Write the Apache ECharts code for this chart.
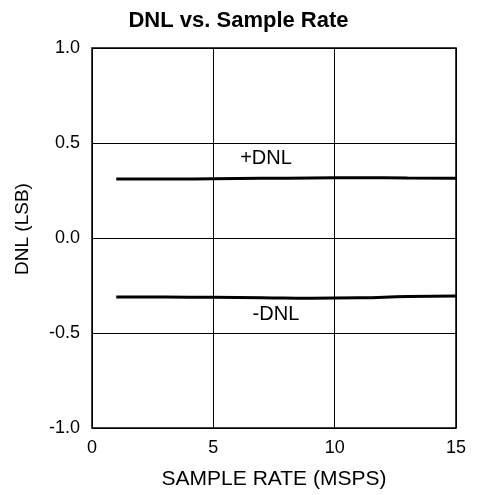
<!DOCTYPE html>
<html>
<head>
<meta charset="utf-8">
<script src="https://cdn.jsdelivr.net/npm/echarts@6/dist/echarts.min.js"></script>
<style>html,body{margin:0;padding:0;background:#fff;}#c{width:477px;height:495px;}</style>
</head>
<body>
<div id="c"></div>
<script>
var rates = [1, 3, 5, 7, 9, 11, 13, 15];
var dnlPos = [0.310, 0.310, 0.312, 0.314, 0.316, 0.317, 0.316, 0.315];
var dnlNeg = [-0.310, -0.311, -0.312, -0.314, -0.317, -0.315, -0.308, -0.305];
var xTicks = [0, 5, 10, 15];
var yTicks = [-1.0, -0.5, 0.0, 0.5, 1.0];

function pairs(xs, ys) { return xs.map(function (x, i) { return [x, ys[i]]; }); }

var font = 'Liberation Sans, Arial, sans-serif';
var chart = echarts.init(document.getElementById('c'));
chart.setOption({
  animation: false,
  backgroundColor: '#fff',
  title: {
    text: 'DNL vs. Sample Rate',
    left: 'center', top: 5,
    textStyle: { fontFamily: font, fontSize: 22, fontWeight: 'bold', color: '#000' }
  },
  grid: { left: 92, right: 21, top: 48, bottom: 67, show: true, borderColor: '#000', borderWidth: 1.5 },
  xAxis: {
    type: 'value', min: 0, max: 15, interval: 5,
    name: 'SAMPLE RATE (MSPS)', nameLocation: 'middle', nameGap: 41,
    nameTextStyle: { fontFamily: font, fontSize: 21, color: '#000' },
    axisLine: { show: false }, axisTick: { show: false },
    axisLabel: { fontFamily: font, fontSize: 18, color: '#000', margin: 11 },
    splitLine: { show: true, lineStyle: { color: '#000', width: 1 } }
  },
  yAxis: {
    type: 'value', min: -1, max: 1, interval: 0.5,
    name: 'DNL (LSB)', nameLocation: 'middle', nameGap: 60,
    nameTextStyle: { fontFamily: font, fontSize: 19, color: '#000', padding: [0, 0, 0, 18] },
    axisLine: { show: false }, axisTick: { show: false },
    axisLabel: { fontFamily: font, fontSize: 18, color: '#000', margin: 12,
      formatter: function (v) { return v.toFixed(1); } },
    splitLine: { show: true, lineStyle: { color: '#000', width: 1 } }
  },
  series: [
    {
      type: 'line', data: pairs(rates, dnlPos), showSymbol: false, smooth: true,
      lineStyle: { color: '#000', width: 3 },
      markPoint: { symbol: 'circle', symbolSize: 0, silent: true,
        data: [{ coord: [7.17, 0.416], label: { show: true, position: 'inside', formatter: '+DNL', fontFamily: font, fontSize: 20, color: '#000' } }] }
    },
    {
      type: 'line', data: pairs(rates, dnlNeg), showSymbol: false, smooth: true,
      lineStyle: { color: '#000', width: 3 },
      markPoint: { symbol: 'circle', symbolSize: 0, silent: true,
        data: [{ coord: [7.58, -0.405], label: { show: true, position: 'inside', formatter: '-DNL', fontFamily: font, fontSize: 20, color: '#000' } }] }
    }
  ]
});
</script>
</body>
</html>
